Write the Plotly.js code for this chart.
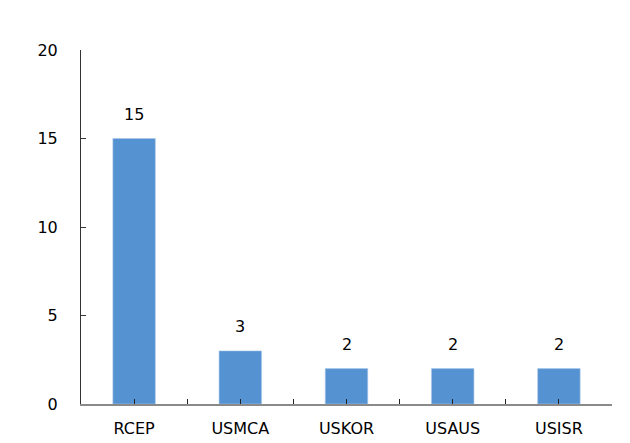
<!DOCTYPE html>
<html>
<head>
<meta charset="utf-8">
<script src="https://cdn.plot.ly/plotly-3.0.1.min.js"></script>
<style>html,body{margin:0;padding:0;background:#fff}#chart{width:630px;height:443px}</style>
</head>
<body>
<div id="chart"></div>
<script>
// Agreements and their counts
const agreements = ['RCEP', 'USMCA', 'USKOR', 'USAUS', 'USISR'];
const counts = [15, 3, 2, 2, 2];
const yTicks = [0, 5, 10, 15, 20];

const font = {family: 'DejaVu Sans, Verdana, sans-serif', size: 16, color: '#000'};

const bars = {
  type: 'bar',
  x: agreements,
  y: counts,
  marker: {color: '#5592D1', line: {color: '#A9C8EA', width: 0.6}},
  hoverinfo: 'none'
};

// invisible trace on a twin axis so ticks also sit at category centres
const centreTicks = {
  type: 'bar',
  x: agreements,
  y: counts.map(() => 0),
  xaxis: 'x2',
  marker: {color: 'rgba(0,0,0,0)'},
  hoverinfo: 'none'
};

const valueLabels = agreements.map((a, i) => ({
  x: a, y: counts[i], xref: 'x', yref: 'y',
  text: String(counts[i]), showarrow: false,
  yanchor: 'bottom', yshift: 13, font: font
}));

const layout = {
  width: 630, height: 443,
  margin: {l: 81, r: 18, t: 50, b: 39},
  paper_bgcolor: '#fff', plot_bgcolor: '#fff',
  showlegend: false,
  bargap: 0.6,
  font: font,
  xaxis: {
    type: 'category', showgrid: false, zeroline: false,
    showline: true, linecolor: '#8a8a8a', linewidth: 2,
    ticks: 'inside', ticklen: 5, tickcolor: '#222', tickwidth: 1,
    tickson: 'boundaries', ticklabelstandoff: 9,
    tickfont: font
  },
  xaxis2: {
    type: 'category', overlaying: 'x', matches: 'x', side: 'bottom',
    showgrid: false, zeroline: false, showline: false,
    ticks: 'inside', ticklen: 5, tickcolor: '#222', tickwidth: 1,
    showticklabels: false
  },
  yaxis: {
    range: [0, 20], tickvals: yTicks, showgrid: false, zeroline: false,
    showline: true, linecolor: '#333', linewidth: 1,
    ticks: 'inside', ticklen: 5, tickcolor: '#333',
    ticklabelstandoff: 19, tickfont: font
  },
  annotations: valueLabels
};

Plotly.newPlot('chart', [bars, centreTicks], layout, {displayModeBar: false, staticPlot: true});
</script>
</body>
</html>
